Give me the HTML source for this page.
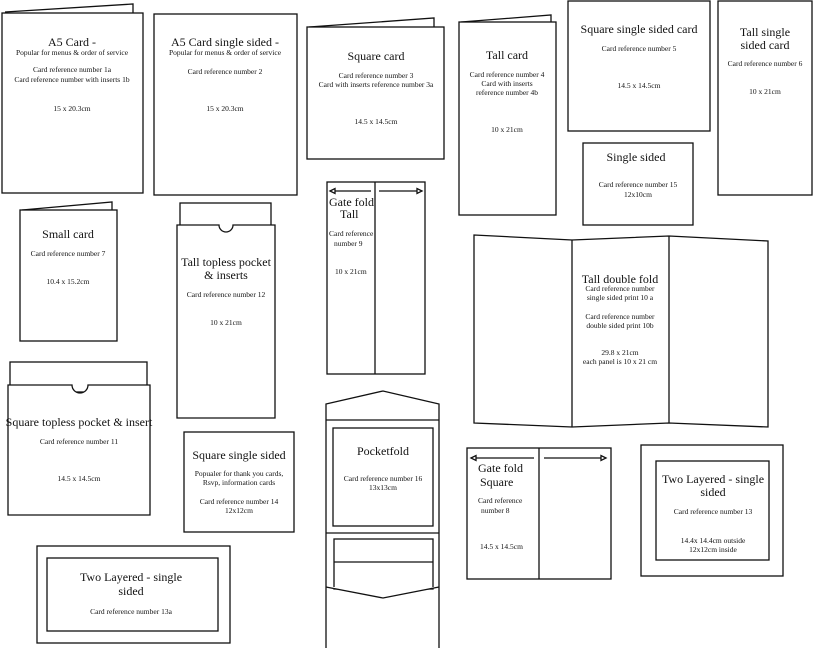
<!DOCTYPE html>
<html><head><meta charset="utf-8"><style>
html,body{margin:0;padding:0;background:#fff;}
svg{display:block;font-family:"Liberation Serif",serif;}
.t{font-size:12px;}
.s{font-size:7.5px;}
rect,path,line,polyline{fill:#fff;stroke:#111;stroke-width:1.3;}
</style></head><body>
<svg width="817" height="648" viewBox="0 0 817 648" text-anchor="middle" fill="#111">
<!-- A5 Card -->
<polyline points="5,12 133,4 133,13"/>
<rect x="2" y="13" width="141" height="180"/>
<text class="t" x="72" y="46" stroke="none" fill="#111">A5 Card -</text>
<text class="s" x="72" y="55" stroke="none">Popular for menus &amp; order of service</text>
<text class="s" x="72" y="72">Card reference number 1a</text>
<text class="s" x="72" y="82">Card reference number with inserts 1b</text>
<text class="s" x="72" y="111">15 x 20.3cm</text>
<!-- A5 single -->
<rect x="154" y="14" width="143" height="181"/>
<text class="t" x="225" y="46">A5 Card single sided -</text>
<text class="s" x="225" y="55">Popular for menus &amp; order of service</text>
<text class="s" x="225" y="74">Card reference number  2</text>
<text class="s" x="225" y="111">15 x 20.3cm</text>
<!-- Square card -->
<polyline points="309,27 434,18 434,27"/>
<rect x="307" y="27" width="137" height="132"/>
<text class="t" x="376" y="60">Square card</text>
<text class="s" x="376" y="78">Card reference number 3</text>
<text class="s" x="376" y="87">Card with inserts reference number  3a</text>
<text class="s" x="376" y="124">14.5 x 14.5cm</text>
<!-- Tall card -->
<polyline points="461,22 551,15 551,22"/>
<rect x="459" y="22" width="97" height="193"/>
<text class="t" x="507" y="59">Tall card</text>
<text class="s" x="507" y="77">Card reference number 4</text>
<text class="s" x="507" y="86">Card with inserts</text>
<text class="s" x="507" y="95">reference number  4b</text>
<text class="s" x="507" y="132">10 x 21cm</text>
<!-- Square single sided card -->
<rect x="568" y="1" width="142" height="130"/>
<text class="t" x="639" y="33">Square single sided card</text>
<text class="s" x="639" y="51">Card reference number  5</text>
<text class="s" x="639" y="88">14.5 x 14.5cm</text>
<!-- Tall single -->
<rect x="718" y="1" width="94" height="194"/>
<text class="t" x="765" y="36">Tall single</text>
<text class="t" x="765" y="49">sided card</text>
<text class="s" x="765" y="66">Card reference number  6</text>
<text class="s" x="765" y="94">10 x 21cm</text>
<!-- Single sided -->
<rect x="583" y="143" width="110" height="82"/>
<text class="t" x="636" y="161">Single sided</text>
<text class="s" x="638" y="187">Card reference number 15</text>
<text class="s" x="638" y="197">12x10cm</text>
<!-- Small card -->
<polyline points="22,210 112,202 112,210"/>
<rect x="20" y="210" width="97" height="131"/>
<text class="t" x="68" y="238">Small card</text>
<text class="s" x="68" y="256">Card reference number 7</text>
<text class="s" x="68" y="284">10.4 x 15.2cm</text>
<!-- Tall topless pocket -->
<rect x="180" y="203" width="91" height="30"/>
<path d="M177,225 H219 A7,7 0 0 0 233,225 H275 V418 H177 Z"/>
<text class="t" x="226" y="266">Tall topless pocket</text>
<text class="t" x="226" y="279">&amp; inserts</text>
<text class="s" x="226" y="297">Card reference number 12</text>
<text class="s" x="226" y="325">10 x 21cm</text>
<!-- Gate fold tall -->
<rect x="327" y="182" width="98" height="192"/>
<line x1="375" y1="182" x2="375" y2="374"/>
<line x1="330" y1="191" x2="371" y2="191" stroke-width="1"/>
<path d="M330,191 l5,-2.5 v5 z" fill="#111"/>
<line x1="379" y1="191" x2="421" y2="191" stroke-width="1"/>
<path d="M422,191 l-5,-2.5 v5 z" fill="#111"/>
<g text-anchor="start">
<text class="t" x="329" y="206">Gate fold</text>
<text class="t" x="340" y="218">Tall</text>
<text class="s" x="329" y="236">Card reference</text>
<text class="s" x="334" y="246">number  9</text>
<text class="s" x="335" y="274">10 x 21cm</text>
</g>
<!-- Tall double fold -->
<path d="M474,235 L572,240 L669,236 L768,241 L768,427 L669,423 L572,427 L474,423 Z"/>
<line x1="572" y1="240" x2="572" y2="427"/>
<line x1="669" y1="236" x2="669" y2="423"/>
<text class="t" x="620" y="283">Tall double fold</text>
<text class="s" x="620" y="291">Card reference number</text>
<text class="s" x="620" y="300">single sided print 10 a</text>
<text class="s" x="620" y="319">Card reference number</text>
<text class="s" x="620" y="328">double sided print 10b</text>
<text class="s" x="620" y="355">29.8 x 21cm</text>
<text class="s" x="620" y="364">each panel is 10 x 21 cm</text>
<!-- Square topless pocket -->
<rect x="10" y="362" width="137" height="30"/>
<path d="M8,385 H72 A8,8 0 0 0 88,385 H150 V515 H8 Z"/>
<text class="t" x="79" y="426">Square topless pocket &amp; insert</text>
<text class="s" x="79" y="444">Card reference number 11</text>
<text class="s" x="79" y="481">14.5 x 14.5cm</text>
<!-- Square single sided 14 -->
<rect x="184" y="432" width="110" height="100"/>
<text class="t" x="239" y="459">Square single sided</text>
<text class="s" x="239" y="476">Popualer for thank you cards,</text>
<text class="s" x="239" y="485">Rsvp, information cards</text>
<text class="s" x="239" y="504">Card reference number 14</text>
<text class="s" x="239" y="513">12x12cm</text>
<!-- Pocketfold -->
<path d="M326,648 V404 L383,391 L439,404 V648"/>
<line x1="326" y1="420" x2="439" y2="420"/>
<rect x="333" y="428" width="100" height="98"/>
<line x1="326" y1="533" x2="439" y2="533"/>
<rect x="334" y="539" width="99" height="50"/>
<line x1="334" y1="562" x2="433" y2="562"/>
<path d="M326,587 L383,598 L439,587" />
<text class="t" x="383" y="455">Pocketfold</text>
<text class="s" x="383" y="481">Card reference number 16</text>
<text class="s" x="383" y="490">13x13cm</text>
<!-- Gate fold square -->
<rect x="467" y="448" width="144" height="131"/>
<line x1="539" y1="448" x2="539" y2="579"/>
<line x1="471" y1="458" x2="534" y2="458" stroke-width="1"/>
<path d="M471,458 l5,-2.5 v5 z" fill="#111"/>
<line x1="544" y1="458" x2="605" y2="458" stroke-width="1"/>
<path d="M606,458 l-5,-2.5 v5 z" fill="#111"/>
<g text-anchor="start">
<text class="t" x="478" y="472">Gate fold</text>
<text class="t" x="480" y="486">Square</text>
<text class="s" x="478" y="503">Card reference</text>
<text class="s" x="481" y="513">number  8</text>
<text class="s" x="480" y="549">14.5 x 14.5cm</text>
</g>
<!-- Two layered 13 -->
<rect x="641" y="445" width="142" height="131"/>
<rect x="656" y="461" width="113" height="99"/>
<text class="t" x="713" y="483">Two Layered - single</text>
<text class="t" x="713" y="496">sided</text>
<text class="s" x="713" y="514">Card reference number 13</text>
<text class="s" x="713" y="543">14.4x 14.4cm outside</text>
<text class="s" x="713" y="552">12x12cm inside</text>
<!-- Two layered 13a -->
<rect x="37" y="546" width="193" height="97"/>
<rect x="47" y="558" width="171" height="73"/>
<text class="t" x="131" y="581">Two Layered - single</text>
<text class="t" x="131" y="595">sided</text>
<text class="s" x="131" y="614">Card reference number 13a</text>
</svg>
</body></html>
